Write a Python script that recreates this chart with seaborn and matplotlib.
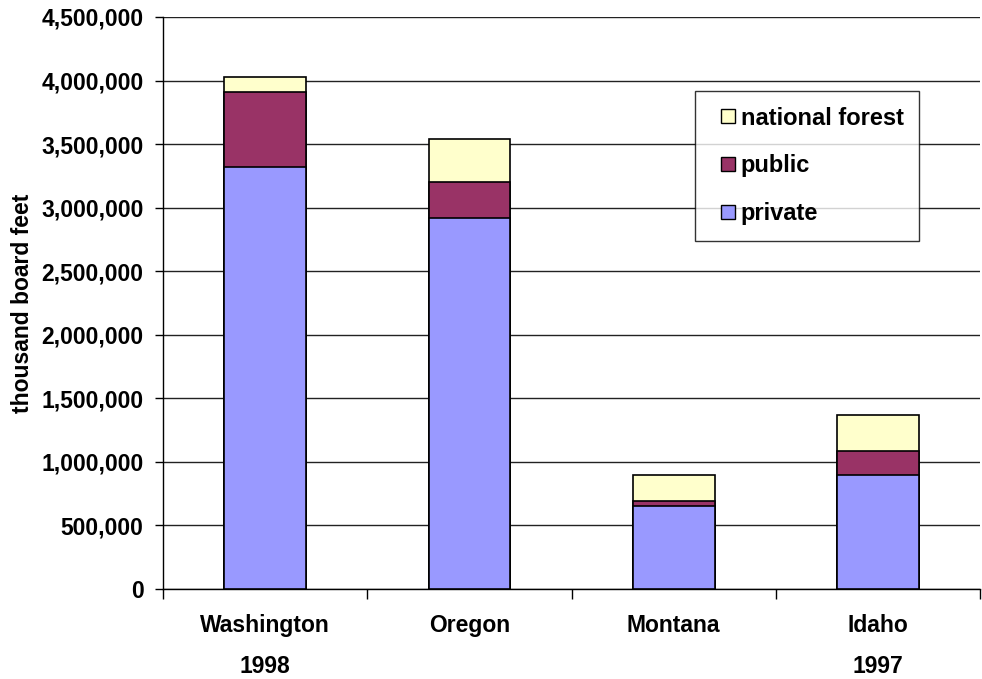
import pandas as pd
import matplotlib
matplotlib.use('Agg')
import matplotlib.pyplot as plt
import seaborn as sns
from matplotlib.patches import Patch, Rectangle
from matplotlib.legend_handler import HandlerPatch
from matplotlib.ticker import FuncFormatter, FixedLocator

# Data (thousand board feet)
states = ["Washington", "Oregon", "Montana", "Idaho"]
years = ["1998", "", "", "1997"]
private = [3320000, 2915000, 653000, 896000]
public = [593000, 287000, 42000, 192000]
national_forest = [112000, 337000, 205000, 284000]

colors = {"private": "#9999FF", "public": "#993366", "national forest": "#FFFFCC"}

df = pd.DataFrame({"state": states, "private": private,
                   "public": public, "national forest": national_forest})
df["pp"] = df["private"] + df["public"]
df["total"] = df["pp"] + df["national forest"]

sns.set_style("white")
plt.rcParams['font.family'] = ['Liberation Sans', 'DejaVu Sans']
plt.rcParams['font.weight'] = 'bold'
plt.rcParams['text.color'] = 'black'
plt.rcParams['xtick.color'] = 'black'
plt.rcParams['ytick.color'] = 'black'

fig = plt.figure(figsize=(9.82, 6.79), dpi=100)
ax = fig.add_axes([0.166, 0.1325, 0.832, 0.8425])

# stacked bars: draw cumulative totals, largest first
for col, name in [("total", "national forest"), ("pp", "public"), ("private", "private")]:
    sns.barplot(data=df, x="state", y=col, color=colors[name], width=0.4,
                edgecolor="black", linewidth=1.2, saturation=1, ax=ax, zorder=3)

ax.set_xlim(-0.5, 3.5)
ax.set_ylim(0, 4500000)
ax.set_yticks(range(0, 4500001, 500000))
ax.yaxis.set_major_formatter(FuncFormatter(lambda v, p: f"{int(v):,}"))
ax.grid(axis="y", color="#222222", linewidth=1, zorder=0)
ax.set_axisbelow(True)

for s in ["top", "right"]:
    ax.spines[s].set_visible(False)
for s in ["left", "bottom"]:
    ax.spines[s].set_color("black")
    ax.spines[s].set_linewidth(1)

ax.tick_params(axis="y", which="major", direction="out", length=6, width=1,
               color="black", labelsize=16.5, pad=8, left=True)
ax.tick_params(axis="x", which="major", length=0, labelsize=16.5, pad=18)
ax.xaxis.set_minor_locator(FixedLocator([-0.5, 0.5, 1.5, 2.5, 3.5]))
ax.tick_params(axis="x", which="minor", direction="out", length=7, width=1,
               color="black", bottom=True)
for lbl in ax.get_xticklabels() + ax.get_yticklabels():
    lbl.set_fontweight("bold")
    lbl.set_color("black")

ax.set_xlabel("")
ax.set_ylabel("thousand board feet", fontsize=16.5, fontweight="bold", labelpad=5,
              color="black")

for i, yr in enumerate(years):
    if yr:
        ax.text(i, -0.135, yr, transform=ax.get_xaxis_transform(), ha="center",
                va="center", fontsize=16.5, fontweight="bold", color="black")


# small square handle placed at the right end of the handle box
def square_patch(legend, orig_handle, xdescent, ydescent, width, height, fontsize):
    s = height
    return Rectangle((width - s - xdescent, -ydescent), s, s)


handles = [Patch(facecolor=colors[n], edgecolor="black", label=n)
           for n in ["national forest", "public", "private"]]
leg = ax.legend(handles=handles, loc="upper left", bbox_to_anchor=(0.651, 0.87),
                frameon=True, fancybox=False, edgecolor="black", fontsize=17,
                handlelength=1.05, handleheight=0.55, handletextpad=0.25,
                labelspacing=1.05, borderpad=0.65, borderaxespad=0,
                handler_map={Patch: HandlerPatch(patch_func=square_patch)})
leg.get_frame().set_linewidth(1)
for t in leg.get_texts():
    t.set_fontweight("bold")
    t.set_color("black")

plt.savefig("out.png", dpi=100)
plt.close()
